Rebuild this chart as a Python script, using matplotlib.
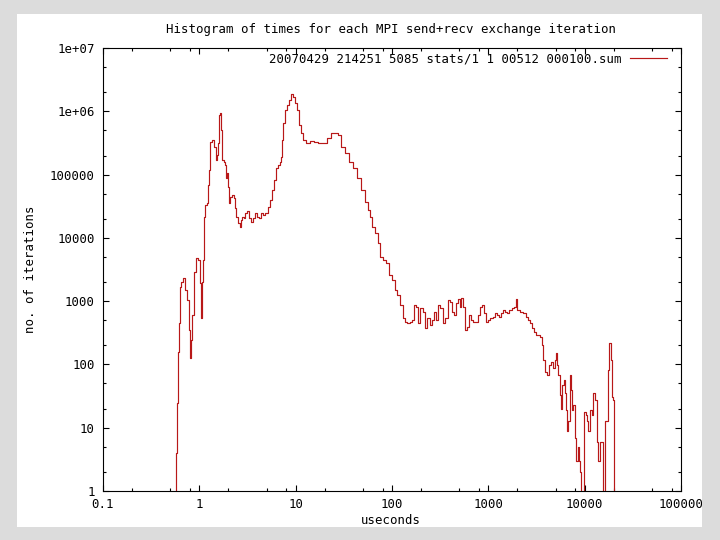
import matplotlib
matplotlib.use("Agg")
import matplotlib.pyplot as plt
from matplotlib.patches import Rectangle
from matplotlib.ticker import FixedLocator, FixedFormatter

# histogram: bin start (useconds) and number of iterations in that bin
usec = [
    0.546, 0.573, 0.587, 0.601, 0.615, 0.630, 0.645, 0.676, 0.709, 0.744,
    0.781, 0.800, 0.819, 0.839, 0.881, 0.923, 0.968, 1.016, 1.040, 1.066,
    1.091, 1.117, 1.145, 1.201, 1.230, 1.259, 1.290, 1.355, 1.419, 1.489,
    1.524, 1.562, 1.600, 1.640, 1.678, 1.718, 1.803, 1.846, 1.890, 1.936,
    1.985, 2.032, 2.080, 2.183, 2.291, 2.344, 2.404, 2.518, 2.642, 2.704,
    2.773, 2.911, 2.979, 3.126, 3.281, 3.436, 3.606, 3.784, 3.972, 4.159,
    4.365, 4.581, 4.808, 5.164, 5.420, 5.675, 5.957, 6.252, 6.562, 6.871,
    7.043, 7.211, 7.389, 7.745, 8.128, 8.531, 8.953, 9.376, 9.840, 10.33,
    10.83, 11.35, 11.91, 12.80, 14.08, 15.49, 17.06, 19.23, 21.13, 23.28,
    25.60, 27.52, 29.56, 32.51, 35.78, 39.39, 43.33, 47.68, 52.46, 56.34,
    59.10, 61.96, 66.65, 71.61, 75.09, 80.70, 86.70, 93.14, 100.0, 107.4,
    112.7, 121.1, 130.0, 136.4, 143.1, 153.8, 161.4, 169.1, 177.4, 186.2,
    195.3, 209.9, 220.2, 230.9, 248.2, 260.2, 272.9, 286.3, 300.4, 315.0,
    338.4, 355.0, 381.3, 400.1, 419.7, 440.3, 461.8, 484.5, 508.2, 520.3,
    545.9, 572.6, 600.7, 630.0, 660.9, 693.4, 744.4, 781.0, 819.3, 859.5,
    901.6, 945.9, 992.3, 1041, 1118, 1173, 1230, 1291, 1354, 1420,
    1490, 1563, 1640, 1761, 1847, 1938, 1985, 2131, 2289, 2459,
    2580, 2707, 2840, 2980, 3126, 3440, 3606, 3697, 3879, 4069,
    4269, 4479, 4699, 4930, 5046, 5164, 5294, 5554, 5689, 5827,
    6113, 6257, 6412, 6564, 6719, 7049, 7223, 7395, 7568, 7943,
    8139, 8539, 8730, 8958, 9162, 9840, 10330, 10570, 10840, 11370,
    11910, 12210, 12790, 13430, 13770, 14420, 15140, 15490, 16260, 17460,
    17910, 18750, 19230, 19680, 20180,
]
iterations = [
    0, 4, 25, 157, 451, 1670, 2000, 2320, 1500, 1040,
    350, 126, 243, 604, 2885, 4800, 4470, 1930, 541, 2000,
    4470, 21300, 33000, 35500, 68400, 118000, 327000, 352000, 272000, 170000,
    204000, 315000, 874000, 940000, 506000, 170000, 158000, 141000, 88200, 106000,
    63600, 35500, 44200, 47500, 42600, 29600, 21300, 17100, 14800, 19100,
    21300, 20600, 24700, 26500, 20600, 17800, 20600, 24700, 21300, 20600,
    24700, 22900, 24700, 30700, 39600, 57000, 82000, 127000, 141000, 158000,
    189000, 352000, 653000, 1050000, 1260000, 1510000, 1870000, 1680000, 1350000, 1050000,
    607000, 453000, 352000, 315000, 339000, 327000, 315000, 315000, 378000, 453000,
    453000, 422000, 272000, 219000, 158000, 127000, 88200, 57000, 36800, 27500,
    21300, 14800, 11900, 8280, 4980, 4470, 4000, 2590, 2160, 1500,
    1250, 868, 541, 468, 451, 468, 504, 868, 808, 451,
    779, 673, 376, 541, 420, 504, 673, 504, 868, 779,
    451, 541, 1040, 968, 673, 604, 934, 1080, 808, 1120,
    808, 350, 390, 604, 504, 468, 468, 604, 808, 868,
    649, 468, 504, 541, 561, 649, 604, 561, 649, 724,
    673, 649, 724, 779, 808, 1080, 724, 673, 649, 561,
    504, 451, 376, 325, 292, 271, 203, 117, 76, 68,
    98, 109, 88, 117, 151, 98, 68, 33, 20, 47,
    57, 35, 19, 9, 13, 68, 39, 19, 23, 7,
    3, 5, 3, 2, 0, 18, 16, 13, 9, 19,
    16, 35, 27, 6, 3, 6, 6, 0, 13, 82,
    218, 117, 31, 27, 0,
]

x_ticks = [0.1, 1, 10, 100, 1000, 10000, 100000]
x_tick_labels = ["0.1", "1", "10", "100", "1000", "10000", "100000"]
y_ticks = [1, 10, 100, 1000, 10000, 100000, 1e6, 1e7]
y_tick_labels = ["1", "10", "100", "1000", "10000", "100000", "1e+06", "1e+07"]

title = "Histogram of times for each MPI send+recv exchange iteration"
series_label = "20070429 214251 5085 stats/1 1 00512 000100.sum"

plt.rcParams["font.family"] = ["DejaVu Sans Mono"]
FS = 8.95
RED = "#b81818"
GREY = "#dcdcdc"

W, H = 720, 540
fig = plt.figure(figsize=(7.2, 5.4), dpi=100, facecolor=GREY)

# white slide panel
fig.add_artist(Rectangle((17 / W, 1 - 527 / H), 685 / W, 513 / H,
                         transform=fig.transFigure, facecolor="white",
                         edgecolor="none", zorder=-5))

ax = fig.add_axes([103 / W, 1 - 491 / H, 578 / W, 443 / H])
ax.set_xscale("log")
ax.set_yscale("log", nonpositive="clip")
ax.set_xlim(0.1, 100000)
ax.set_ylim(1, 1e7)

ax.step(usec, iterations, where="post", color=RED, lw=0.85, label=series_label)

ax.xaxis.set_major_locator(FixedLocator(x_ticks))
ax.xaxis.set_major_formatter(FixedFormatter(x_tick_labels))
ax.yaxis.set_major_locator(FixedLocator(y_ticks))
ax.yaxis.set_major_formatter(FixedFormatter(y_tick_labels))
x_minor = [d * m for d in x_ticks[:-1] for m in (2, 5, 8)]
y_minor = [d * m for d in y_ticks[:-1] for m in (2, 5)]
ax.xaxis.set_minor_locator(FixedLocator(x_minor))
ax.yaxis.set_minor_locator(FixedLocator(y_minor))
ax.xaxis.set_minor_formatter(FixedFormatter([]))
ax.yaxis.set_minor_formatter(FixedFormatter([]))

ax.tick_params(which="both", direction="in", top=True, right=True,
               width=0.8, labelsize=FS, colors="black")
ax.tick_params(which="major", length=4.5)
ax.tick_params(which="minor", length=2.2)
ax.tick_params(axis="x", pad=5)
ax.tick_params(axis="y", pad=6)
for s in ax.spines.values():
    s.set_linewidth(0.8)

fig.text(391 / W, 1 - 30 / H, title, ha="center", va="center", fontsize=FS)
fig.text(391 / W, 1 - 520 / H, "useconds", ha="center", va="center", fontsize=FS)
fig.text(30 / W, 1 - 269 / H, "no. of iterations", ha="center", va="center",
         rotation=90, fontsize=FS)

ax.legend(loc="upper right", bbox_to_anchor=((667 - 103) / 578, (491 - 52) / 443),
          frameon=False, markerfirst=False, fontsize=FS, handlelength=3.0,
          handletextpad=0.7, borderpad=0, borderaxespad=0)

# slide border covers the right end of the last tick label
fig.add_artist(Rectangle((702 / W, 0), 18 / W, 1, transform=fig.transFigure,
                         facecolor=GREY, edgecolor="none", zorder=10))

fig.savefig("out.png", dpi=100, facecolor=GREY)
